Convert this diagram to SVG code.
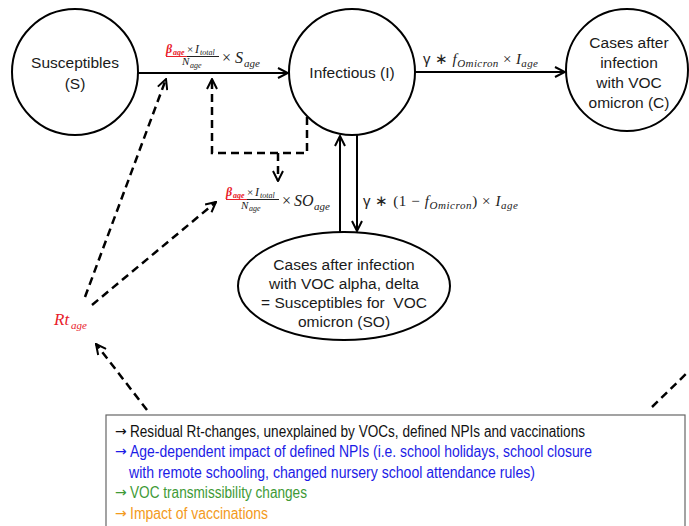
<svg xmlns="http://www.w3.org/2000/svg" width="689" height="526" viewBox="0 0 689 526">
<style>
.node{fill:#fff;stroke:#000;stroke-width:2}
.lbl{font-family:"Liberation Sans",Arial,sans-serif;font-size:15.5px;fill:#1a1a1a;text-anchor:middle}
.solid{fill:none;stroke:#000;stroke-width:2}
.dash{fill:none;stroke:#000;stroke-width:2.5;stroke-dasharray:8 5}
.m{font-family:"Liberation Serif","Times New Roman",serif;font-style:italic;fill:#222}
.up{font-family:"Liberation Serif","Times New Roman",serif;font-style:normal;fill:#222}
.g{font-family:"Liberation Sans",Arial,sans-serif;font-style:normal;fill:#222}
.red{fill:#e8202a}
.bx{font-family:"Liberation Sans",Arial,sans-serif;font-size:16px}
.ar{font-family:"DejaVu Sans",sans-serif;font-size:14px}
</style>
<defs>
<marker id="arr" viewBox="0 0 12 12" refX="11" refY="6" markerWidth="12" markerHeight="12" markerUnits="userSpaceOnUse" orient="auto">
<path d="M1,1 L11,6 L1,11" fill="none" stroke="#000" stroke-width="2" stroke-dasharray="none"/>
</marker>
</defs>

<g id="connectors">
<path class="solid" d="M138,73 H288" marker-end="url(#arr)"/>
<path class="solid" d="M415,72 H565" marker-end="url(#arr)"/>
<path class="solid" d="M340,232 V136" marker-end="url(#arr)"/>
<path class="solid" d="M357,134 V231" marker-end="url(#arr)"/>
<path class="dash" d="M307,117 V153 H212 V79" marker-end="url(#arr)"/>
<path class="dash" d="M278,153 V181" marker-end="url(#arr)"/>
<path class="dash" d="M85,297 L166,79" marker-end="url(#arr)"/>
<path class="dash" d="M92,305 L216,202" marker-end="url(#arr)"/>
<path class="dash" d="M147,410 L96,344" marker-end="url(#arr)"/>
<path class="dash" d="M652,407 L689,371"/>
</g>

<g id="node-S">
<circle class="node" cx="75" cy="72" r="63"/>
<text class="lbl" x="75" y="68">Susceptibles</text>
<text class="lbl" x="75" y="89">(S)</text>
</g>

<g id="node-I">
<circle class="node" cx="352" cy="72" r="63"/>
<text class="lbl" x="352" y="78">Infectious (I)</text>
</g>

<g id="node-C">
<circle class="node" cx="627" cy="70" r="61"/>
<text class="lbl" x="629" y="48">Cases after</text>
<text class="lbl" x="629" y="68">infection</text>
<text class="lbl" x="629" y="88">with VOC</text>
<text class="lbl" x="629" y="108">omicron (C)</text>
</g>

<g id="node-SO">
<ellipse class="node" cx="344" cy="286" rx="106" ry="54"/>
<text class="lbl" x="344" y="270">Cases after infection</text>
<text class="lbl" x="344" y="289">with VOC alpha, delta</text>
<text class="lbl" x="344" y="308" xml:space="preserve">= Susceptibles for  VOC</text>
<text class="lbl" x="344" y="327">omicron (SO)</text>
</g>

<g id="label-infection-S">
<text class="m red" x="166" y="52.5" font-size="12" font-weight="bold">β</text>
<text class="m red" x="173" y="55" font-size="8" font-weight="bold">age</text>
<text class="up" x="187" y="52.5" font-size="11">×</text>
<text class="m" x="195" y="52.5" font-size="12">I</text>
<text class="m" x="200" y="55" font-size="8">total</text>
<line x1="166" y1="56.5" x2="187" y2="56.5" stroke="#e8202a" stroke-width="1"/>
<line x1="187" y1="56.5" x2="219" y2="56.5" stroke="#222" stroke-width="1"/>
<text class="m" x="182" y="65" font-size="11">N</text>
<text class="m" x="190" y="67.5" font-size="8">age</text>
<text class="up" x="222" y="63" font-size="16">×</text>
<text class="m" x="235" y="63" font-size="16">S</text>
<text class="m" x="244" y="66.5" font-size="11">age</text>
</g>

<g id="label-infection-SO">
<text class="m red" x="226" y="195.5" font-size="12" font-weight="bold">β</text>
<text class="m red" x="233" y="198" font-size="8" font-weight="bold">age</text>
<text class="up" x="247" y="195.5" font-size="11">×</text>
<text class="m" x="255" y="195.5" font-size="12">I</text>
<text class="m" x="260" y="198" font-size="8">total</text>
<line x1="226" y1="199.5" x2="247" y2="199.5" stroke="#e8202a" stroke-width="1"/>
<line x1="247" y1="199.5" x2="279" y2="199.5" stroke="#222" stroke-width="1"/>
<text class="m" x="241" y="208.5" font-size="11">N</text>
<text class="m" x="249" y="211" font-size="8">age</text>
<text class="up" x="282" y="206" font-size="16">×</text>
<text class="m" x="294" y="206" font-size="16">SO</text>
<text class="m" x="314" y="209.5" font-size="11">age</text>
</g>

<g id="label-omicron">
<text x="423" y="64" font-size="15" class="up" textLength="115"><tspan class="g">γ</tspan> ∗ <tspan class="m">f</tspan><tspan class="m" font-size="11" dy="3">Omicron</tspan><tspan dy="-3"> × </tspan><tspan class="m">I</tspan><tspan class="m" font-size="11" dy="3">age</tspan></text>
</g>

<g id="label-delta">
<text x="363" y="206" font-size="15" class="up" textLength="155"><tspan class="g">γ</tspan> ∗ (1 − <tspan class="m">f</tspan><tspan class="m" font-size="11" dy="3">Omicron</tspan><tspan dy="-3">) × </tspan><tspan class="m">I</tspan><tspan class="m" font-size="11" dy="3">age</tspan></text>
</g>

<g id="label-Rt">
<text class="m red" x="54" y="325" font-size="17">Rt</text>
<text class="m red" x="71" y="329" font-size="11">age</text>
</g>

<g id="legend">
<rect x="106" y="415" width="579" height="130" fill="#fff" stroke="#666" stroke-width="1.2"/>
<text class="ar" x="115" y="436" fill="#111">→</text>
<text class="bx" x="130" y="437" fill="#111" textLength="455" lengthAdjust="spacingAndGlyphs">Residual Rt-changes, unexplained by VOCs, defined NPIs and vaccinations</text>
<text class="ar" x="115" y="456" fill="#1c1ce6">→</text>
<text class="bx" x="130" y="457" fill="#1c1ce6" textLength="462" lengthAdjust="spacingAndGlyphs">Age-dependent impact of defined NPIs (i.e. school holidays, school closure</text>
<text class="bx" x="129" y="478" fill="#1c1ce6" textLength="406" lengthAdjust="spacingAndGlyphs">with remote schooling, changed nursery school attendance rules)</text>
<text class="ar" x="115" y="497" fill="#3e9a36">→</text>
<text class="bx" x="130" y="498" fill="#3e9a36" textLength="177" lengthAdjust="spacingAndGlyphs">VOC transmissibility changes</text>
<text class="ar" x="115" y="518" fill="#f39a1c">→</text>
<text class="bx" x="130" y="519" fill="#f39a1c" textLength="138" lengthAdjust="spacingAndGlyphs">Impact of vaccinations</text>
</g>
</svg>
